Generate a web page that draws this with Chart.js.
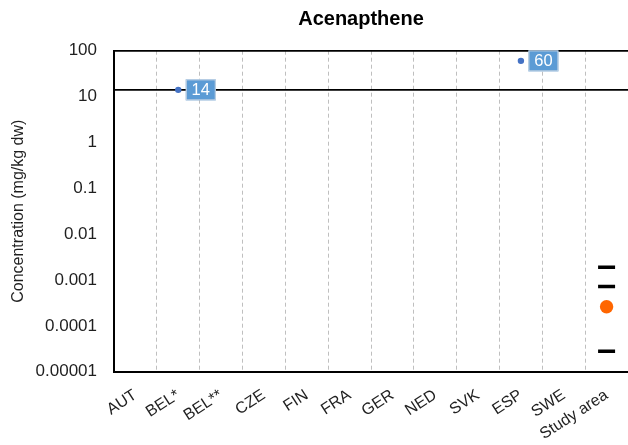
<!DOCTYPE html>
<html>
<head>
<meta charset="utf-8">
<script src="https://cdn.jsdelivr.net/npm/chart.js@4.4.1/dist/chart.umd.min.js"></script>
<style>
  html, body { margin: 0; padding: 0; background: #ffffff; }
  #wrap { width: 628px; height: 445px; position: relative; }
</style>
</head>
<body>
<div id="wrap"><canvas id="chart"></canvas></div>
<script>
// Acenapthene: national sediment quality values vs. the study area measurements
const chartTitle = 'Acenapthene';
const yAxisTitle = 'Concentration (mg/kg dw)';
const countries = ['AUT', 'BEL*', 'BEL**', 'CZE', 'FIN', 'FRA', 'GER', 'NED', 'SVK', 'ESP', 'SWE', 'Study area'];
const guidelineValues = [null, 14, null, null, null, null, null, null, null, 60, null, null];
const thresholdValue = 14;
const studyArea = 'Study area';
const studyRangeValues = [0.0019, 0.00072, 0.000028];
const studyMeanValue = 0.00026;
const yTickValues = [0.00001, 0.0001, 0.001, 0.01, 0.1, 1, 10, 100];
const yTickLabels = ['0.00001', '0.0001', '0.001', '0.01', '0.1', '1', '10', '100'];

const FONT = "'Liberation Sans', Arial, sans-serif";
const TEXT = '#1f1f1f';

// horizontal reference line across the whole plot
const thresholdLine = {
  id: 'thresholdLine',
  beforeDatasetsDraw(chart) {
    const { ctx, chartArea, scales } = chart;
    const y = scales.y.getPixelForValue(thresholdValue);
    ctx.save();
    ctx.strokeStyle = '#000';
    ctx.lineWidth = 1.8;
    ctx.beginPath();
    ctx.moveTo(chartArea.left, y);
    ctx.lineTo(chartArea.right, y);
    ctx.stroke();
    ctx.restore();
  }
};

// value boxes next to the guideline points
const valueBoxes = {
  id: 'valueBoxes',
  afterDatasetsDraw(chart) {
    const { ctx } = chart;
    const meta = chart.getDatasetMeta(0);
    ctx.save();
    ctx.font = '16.5px ' + FONT;
    ctx.textAlign = 'center';
    ctx.textBaseline = 'middle';
    guidelineValues.forEach((v, i) => {
      if (v === null) return;
      const pt = meta.data[i];
      const w = 30, h = 21;
      const x0 = pt.x + 7.5, y0 = pt.y - h / 2;
      ctx.fillStyle = '#5B9BD5';
      ctx.fillRect(x0, y0, w, h);
      ctx.strokeStyle = '#c9d6e3';
      ctx.lineWidth = 1;
      ctx.strokeRect(x0 + 0.5, y0 + 0.5, w - 1, h - 1);
      ctx.fillStyle = '#ffffff';
      ctx.fillText(String(v), x0 + w / 2, pt.y + 1);
    });
    ctx.restore();
  }
};

// chart heading
const heading = {
  id: 'heading',
  afterDraw(chart) {
    const { ctx } = chart;
    ctx.save();
    ctx.font = 'bold 20px ' + FONT;
    ctx.fillStyle = '#000';
    ctx.textAlign = 'center';
    ctx.textBaseline = 'middle';
    ctx.fillText(chartTitle, 361, 19);
    ctx.restore();
  }
};

new Chart(document.getElementById('chart'), {
  type: 'line',
  data: {
    labels: countries,
    datasets: [
      {
        label: 'Guideline',
        data: guidelineValues,
        showLine: false,
        pointRadius: 3.2,
        pointBackgroundColor: '#4472C4',
        pointBorderColor: '#4472C4',
        pointBorderWidth: 0
      },
      {
        label: 'Study area range',
        data: studyRangeValues.map(v => ({ x: studyArea, y: v })),
        showLine: false,
        pointStyle: 'line',
        pointRadius: 8.5,
        pointBorderWidth: 3.5,
        pointBorderColor: '#000',
        borderColor: '#000'
      },
      {
        label: 'Study area mean',
        data: [{ x: studyArea, y: studyMeanValue }],
        showLine: false,
        pointRadius: 6.7,
        pointBackgroundColor: '#FF6600',
        pointBorderColor: '#FF6600',
        pointBorderWidth: 0
      }
    ]
  },
  options: {
    responsive: true,
    maintainAspectRatio: false,
    animation: false,
    layout: { autoPadding: false, padding: { top: 50.7, right: 0, bottom: 0, left: 0 } },
    plugins: {
      legend: { display: false },
      title: { display: false },
      tooltip: { enabled: false }
    },
    scales: {
      x: {
        type: 'category',
        offset: true,
        afterFit(scale) {
          scale.height = 445 - 371.7;
          scale.paddingLeft = 0;
          scale.paddingRight = 0;
        },
        grid: {
          offset: true,
          drawTicks: false,
          tickLength: 0,
          lineWidth: 1,
          color: ctx => (ctx.index === 0 || ctx.index >= countries.length) ? 'rgba(0,0,0,0)' : '#bfbfbf'
        },
        border: { display: true, color: '#000', width: 2, dash: [4, 3] },
        ticks: {
          autoSkip: false,
          minRotation: 33,
          maxRotation: 33,
          padding: 14,
          color: TEXT,
          font: { family: FONT, size: 16 }
        }
      },
      y: {
        type: 'logarithmic',
        min: yTickValues[0],
        max: yTickValues[yTickValues.length - 1],
        afterFit(scale) { scale.width = 114; },
        afterBuildTicks(scale) { scale.ticks = yTickValues.map(v => ({ value: v })); },
        grid: {
          drawTicks: false,
          tickLength: 0,
          lineWidth: 1.8,
          color: ctx => (ctx.tick && ctx.tick.value === yTickValues[yTickValues.length - 1]) ? '#000' : 'rgba(0,0,0,0)'
        },
        border: { display: true, color: '#000', width: 2 },
        ticks: {
          padding: 17,
          color: TEXT,
          font: { family: FONT, size: 17 },
          callback: (value, index) => yTickLabels[index]
        },
        title: {
          display: true,
          text: yAxisTitle,
          color: TEXT,
          font: { family: FONT, size: 16 },
          padding: { top: 9, bottom: 0 }
        }
      }
    }
  },
  plugins: [thresholdLine, valueBoxes, heading]
});
</script>
</body>
</html>
